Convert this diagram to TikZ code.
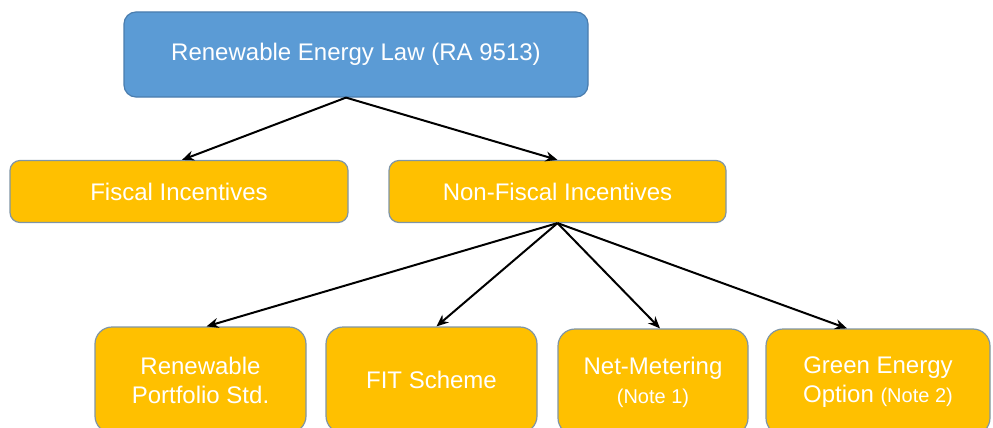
\documentclass[tikz,border=0pt]{standalone}
\usepackage{fontspec}
\setmainfont{Liberation Sans}
\usetikzlibrary{arrows.meta}
\definecolor{lawblue}{HTML}{5B9BD5}
\definecolor{lawedge}{HTML}{4A7DAE}
\definecolor{incyellow}{HTML}{FFC000}
\definecolor{incedge}{HTML}{7F95A6}
\begin{document}
\begin{tikzpicture}[x=1pt,y=-1pt,
  box/.style={rectangle, draw, line width=1.2pt, text=white, align=center,
    inner sep=0pt, font=\fontsize{24}{29}\selectfont},
  lawbox/.style={box, fill=lawblue, draw=lawedge, rounded corners=12pt},
  midbox/.style={box, fill=incyellow, draw=incedge, rounded corners=10pt,
    minimum height=62pt},
  lowbox/.style={box, fill=incyellow, draw=incedge, rounded corners=17pt,
    minimum height=106pt},
  link/.style={draw=black, line width=2pt, -{Stealth[length=12pt,width=10pt]}}]
\useasboundingbox (0,0) rectangle (993,428);
\clip (0,0) rectangle (993,428);

% top level
\node[lawbox, minimum width=464pt, minimum height=85pt] (law) at (356,54.5)
  {Renewable Energy Law (RA 9513)};

% second level
\node[midbox, minimum width=338pt] (fiscal) at (179,191.5) {Fiscal Incentives};
\node[midbox, minimum width=337pt] (nonfiscal) at (557.5,191.5) {Non-Fiscal Incentives};

% third level
\node[lowbox, minimum width=211pt] (rps) at (200.5,380) {Renewable\\Portfolio Std.};
\node[lowbox, minimum width=211pt] (fit) at (431.5,380) {FIT Scheme};
\node[lowbox, minimum width=190pt] (netm) at (653,382)
  {Net-Metering\\{\fontsize{20}{24}\selectfont (Note 1)}};
\node[lowbox, minimum width=224pt] (geo) at (878,382)
  {Green Energy\\Option {\fontsize{20}{24}\selectfont (Note 2)}};

% connectors
\draw[link] ([xshift=-10pt]law.south) -- ([xshift=3pt]fiscal.north);
\draw[link] ([xshift=-10pt]law.south) -- (nonfiscal.north);
\draw[link] (nonfiscal.south) -- ([xshift=6pt]rps.north);
\draw[link] (nonfiscal.south) -- ([xshift=5pt]fit.north);
\draw[link] (nonfiscal.south) -- ([xshift=7pt]netm.north);
\draw[link] (nonfiscal.south) -- ([xshift=-31pt]geo.north);
\end{tikzpicture}
\end{document}
